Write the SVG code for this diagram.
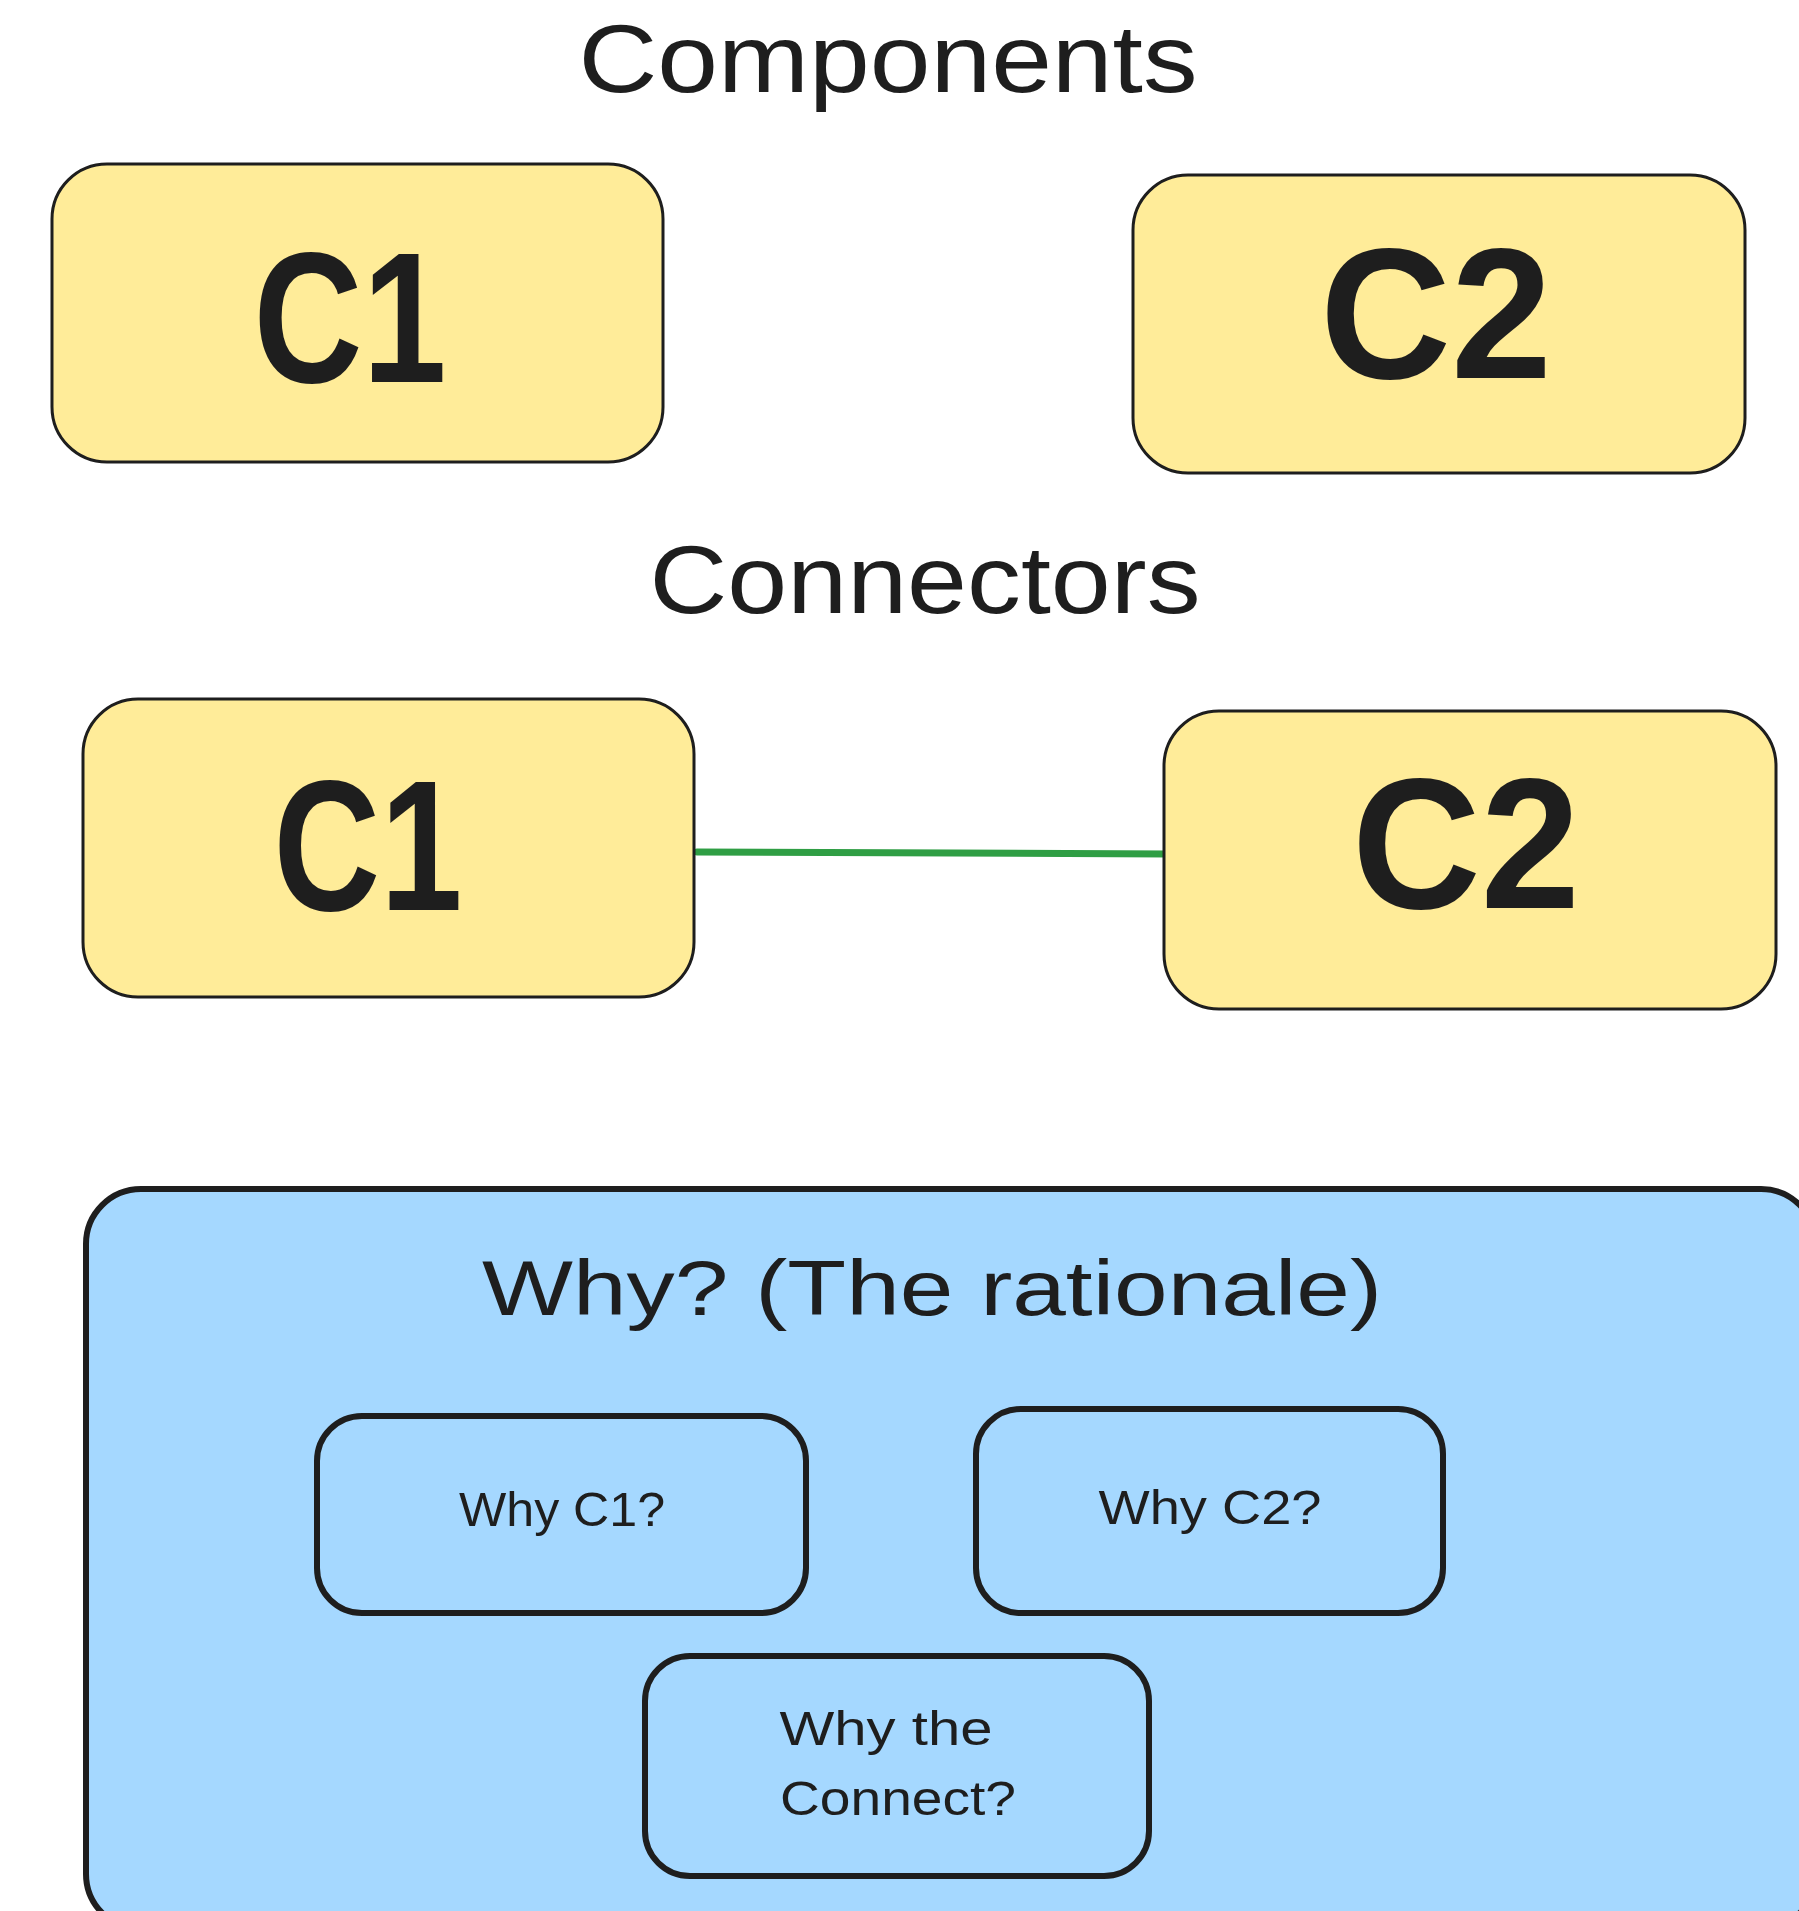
<svg xmlns="http://www.w3.org/2000/svg" width="1799" height="1911" viewBox="0 0 1799 1911">
  <style>
    .bg { fill: #ffffff; }
    .comp { fill: #ffec99; stroke: #1e1e1e; stroke-width: 3; }
    .why { fill: #a5d8ff; stroke: #1e1e1e; stroke-width: 6; }
    .link { stroke: #2f9e44; stroke-width: 7; stroke-linecap: round; fill: none; }
    text { font-family: "Liberation Sans", Arial, sans-serif; fill: #1e1e1e; text-anchor: middle; }
    .title { font-size: 96px; }
    .big { font-size: 185px; font-weight: bold; }
    .head { font-size: 78px; }
    .small { font-size: 48px; }
  </style>
  <rect class="bg" x="0" y="0" width="1799" height="1911"/>

  <!-- section titles -->
  <text class="title" x="888" y="92" textLength="619" lengthAdjust="spacingAndGlyphs">Components</text>
  <text class="title" x="925" y="613" textLength="551" lengthAdjust="spacingAndGlyphs">Connectors</text>

  <!-- components, standalone -->
  <g id="c1-top">
    <rect class="comp" x="52" y="164" width="611" height="298" rx="55"/>
    <text class="big" x="350" y="382" textLength="193" lengthAdjust="spacingAndGlyphs">C1</text>
  </g>
  <g id="c2-top">
    <rect class="comp" x="1133" y="175" width="612" height="298" rx="55"/>
    <text class="big" x="1436" y="378" textLength="232" lengthAdjust="spacingAndGlyphs">C2</text>
  </g>

  <!-- components joined by a connector -->
  <g id="connectors">
    <path class="link" d="M 697 852 L 1168 854"/>
  </g>
  <g id="c1-linked">
    <rect class="comp" x="83" y="699" width="611" height="298" rx="55"/>
    <text class="big" x="368" y="910" textLength="189" lengthAdjust="spacingAndGlyphs">C1</text>
  </g>
  <g id="c2-linked">
    <rect class="comp" x="1164" y="711" width="612" height="298" rx="55"/>
    <text class="big" x="1466" y="908" textLength="228" lengthAdjust="spacingAndGlyphs">C2</text>
  </g>

  <!-- rationale panel -->
  <g id="rationale">
    <rect class="why" x="86" y="1189" width="1730" height="740" rx="55"/>
    <text class="head" x="932" y="1315" textLength="900" lengthAdjust="spacingAndGlyphs">Why? (The rationale)</text>
  </g>
  <g id="why-c1">
    <rect class="why" x="317" y="1416" width="489" height="197" rx="45"/>
    <text class="small" x="562" y="1526" textLength="206" lengthAdjust="spacingAndGlyphs">Why C1?</text>
  </g>
  <g id="why-c2">
    <rect class="why" x="976" y="1409" width="467" height="204" rx="45"/>
    <text class="small" x="1210" y="1524" textLength="223" lengthAdjust="spacingAndGlyphs">Why C2?</text>
  </g>
  <g id="why-connect">
    <rect class="why" x="645" y="1656" width="504" height="220" rx="45"/>
    <text class="small" x="886" y="1745" textLength="213" lengthAdjust="spacingAndGlyphs">Why the</text>
    <text class="small" x="898" y="1815" textLength="236" lengthAdjust="spacingAndGlyphs">Connect?</text>
  </g>
</svg>
